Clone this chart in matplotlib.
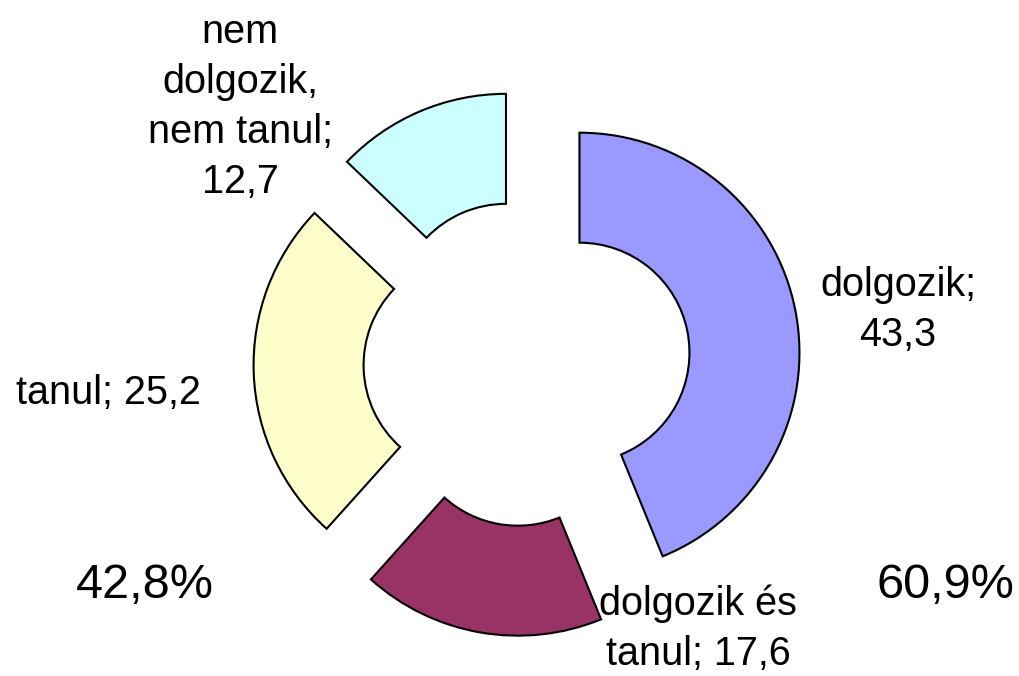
"""
Exploded doughnut chart: activity status (dolgozik / tanul).
"""

import matplotlib.pyplot as plt

plt.rcParams["font.family"] = ["Liberation Sans", "DejaVu Sans"]

CATEGORIES = ["dolgozik", "dolgozik és\ntanul", "tanul", "nem\ndolgozik,\nnem tanul"]
VALUES = [43.3, 17.6, 25.2, 12.7]
COLORS = ["#9999FF", "#993366", "#FFFFCC", "#CCFFFF"]
SIDE_LABELS = ["42,8%", "60,9%"]

# label positions in pixels (x, y from top)
LABEL_POS = [(898, 310), (698, 629), (108, 393), (240, 107)]
SIDE_POS = [(145, 585), (945, 585)]

W, H = 1019, 676
CX, CY = 527, 363
R_PX = 220


def fmt(v):
    return f"{v:.1f}".replace(".", ",")


def main():
    fig = plt.figure(figsize=(W / 100, H / 100), dpi=100)
    ax = fig.add_axes([0, 0, 1, 1])

    ax.pie(
        VALUES,
        colors=COLORS,
        startangle=90,
        counterclock=False,
        explode=[0.243] * len(VALUES),
        radius=1,
        wedgeprops={"width": 0.5, "edgecolor": "black", "linewidth": 1.5},
    )
    ax.set_aspect("equal")
    ax.set_xlim(-CX / R_PX, (W - CX) / R_PX)
    ax.set_ylim(-(H - CY) / R_PX, CY / R_PX)
    ax.axis("off")

    for cat, val, (x, y) in zip(CATEGORIES, VALUES, LABEL_POS):
        if cat == "tanul":
            text = f"{cat}; {fmt(val)}"
        elif cat.startswith("dolgozik és"):
            text = f"dolgozik és\ntanul; {fmt(val)}"
        else:
            text = f"{cat};\n{fmt(val)}"
        fig.text(x / W, 1 - y / H, text, ha="center", va="center",
                 fontsize=28.5, linespacing=1.4, multialignment="center")

    for text, (x, y) in zip(SIDE_LABELS, SIDE_POS):
        fig.text(x / W, 1 - y / H, text, ha="center", va="center", fontsize=35)

    fig.savefig("out.png", dpi=100)
    plt.close(fig)


if __name__ == "__main__":
    main()
